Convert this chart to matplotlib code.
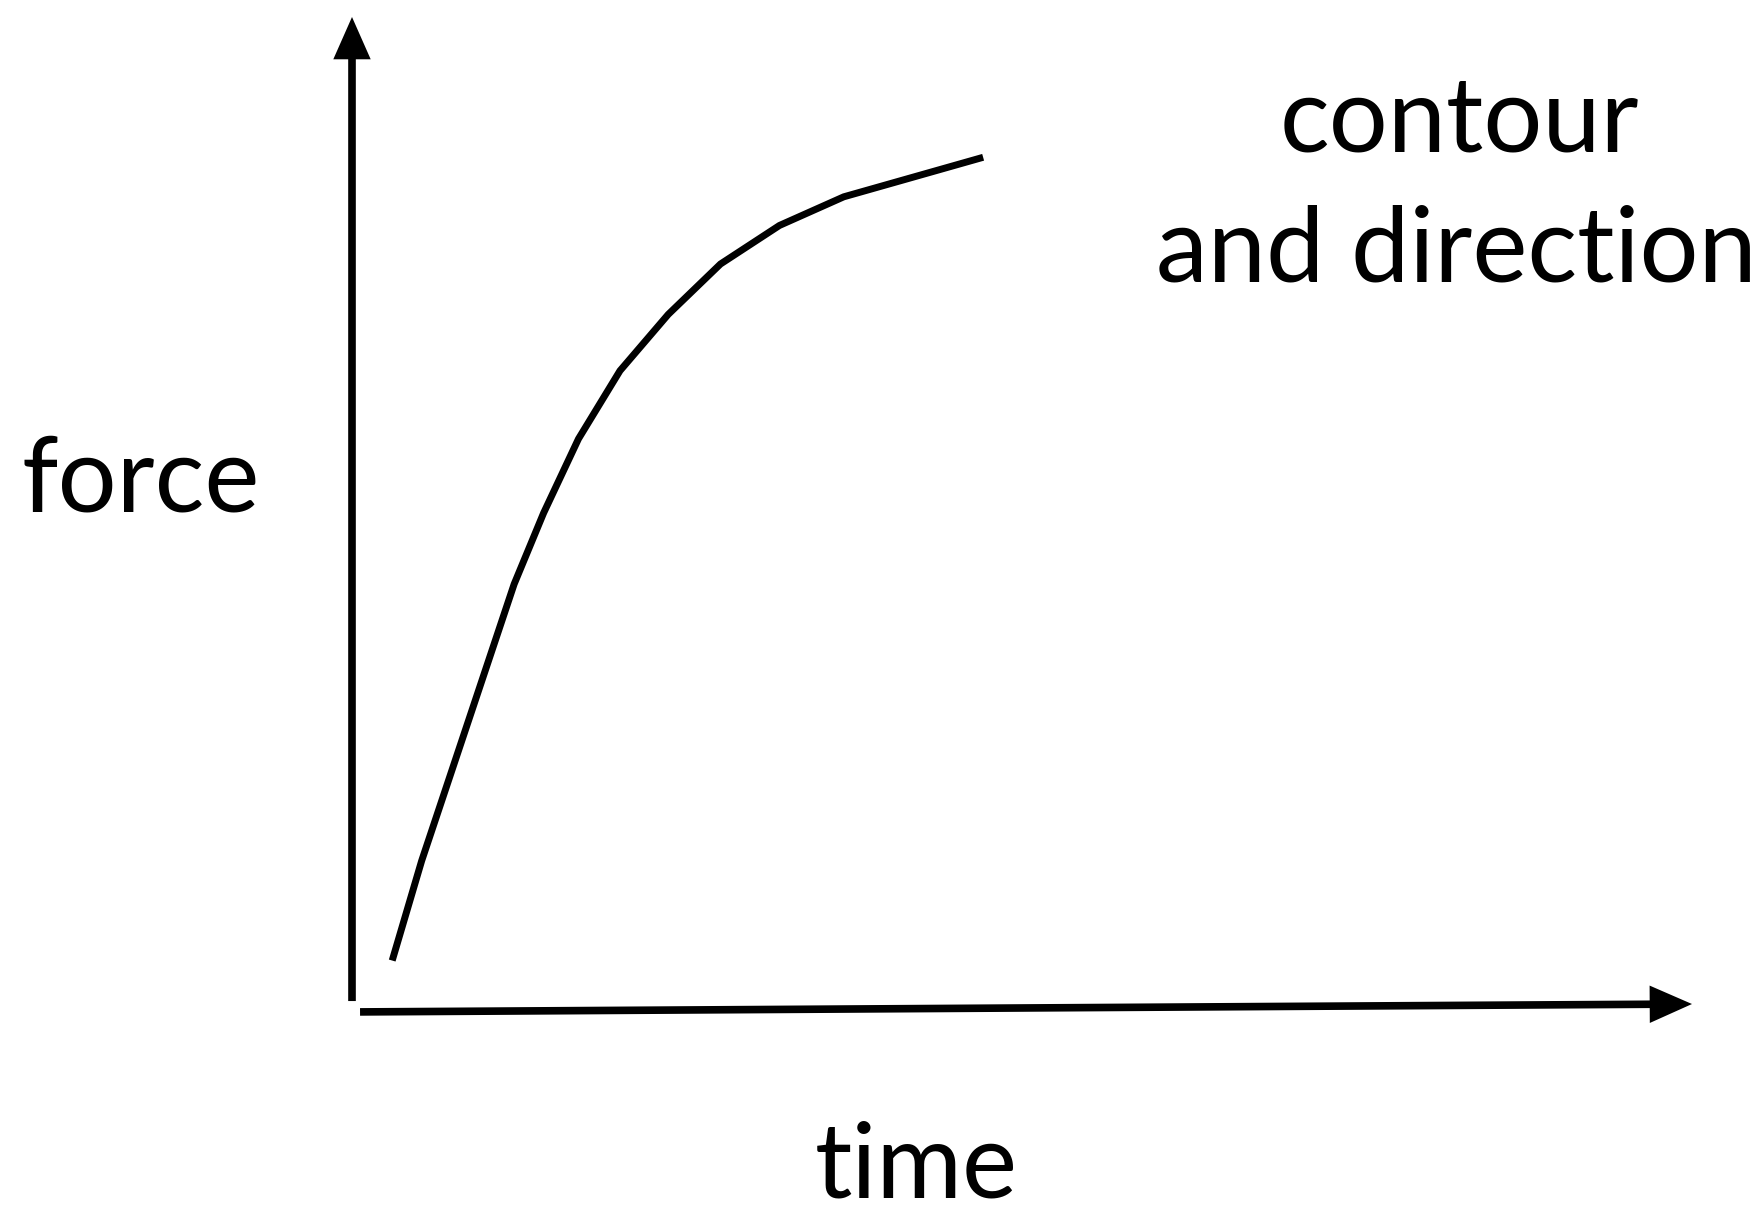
import matplotlib
matplotlib.use("Agg")
import matplotlib.pyplot as plt

# force-time curve (arbitrary units)
time = [0.30, 0.52, 1.21, 1.43, 1.69, 2.00, 2.36, 2.75, 3.19, 3.67, 4.71]
force = [0.45, 1.46, 4.26, 4.98, 5.73, 6.42, 6.99, 7.50, 7.89, 8.18, 8.58]

x_label = "time"
y_label = "force"
note_lines = ["contour", "and direction"]

plt.rcParams["font.family"] = ["Lato", "DejaVu Sans"]

W, H = 1763, 1220
fig = plt.figure(figsize=(W / 100, H / 100), dpi=100)
ax = fig.add_axes([352 / W, 215 / H, 1340 / W, 988 / H])
ax.set_xlim(0, 10)
ax.set_ylim(0, 10)
ax.axis("off")

arrow = dict(arrowstyle="-|>,head_length=0.95,head_width=0.42", color="black",
             lw=5.5, shrinkA=0, shrinkB=0, mutation_scale=22,
             joinstyle="miter", capstyle="butt")
# hand-drawn axes with arrow heads
ax.annotate("", xy=(0, 10), xytext=(0, 0.04), arrowprops=arrow,
            annotation_clip=False)
ax.annotate("", xy=(10, 0.01), xytext=(0.06, -0.07), arrowprops=arrow,
            annotation_clip=False)

ax.plot(time, force, color="black", lw=5, solid_joinstyle="miter",
        solid_capstyle="butt")

fs = 75
fig.text(141 / W, 1 - 512 / H, y_label, fontsize=fs, ha="center", va="baseline")
fig.text(916 / W, 1 - 1197 / H, x_label, fontsize=fs, ha="center", va="baseline")
fig.text(1459 / W, 1 - 152 / H, note_lines[0], fontsize=fs, ha="center",
         va="baseline")
fig.text(1456 / W, 1 - 281 / H, note_lines[1], fontsize=fs, ha="center",
         va="baseline")

fig.savefig("out.png", dpi=100)
